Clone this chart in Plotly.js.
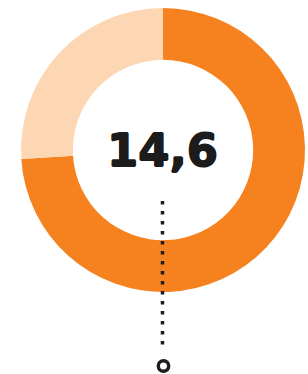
<!DOCTYPE html>
<html>
<head>
<meta charset="utf-8">
<script src="https://cdn.plot.ly/plotly-3.0.1.min.js"></script>
<style>
  html, body { margin: 0; padding: 0; background: #ffffff; }
  #chart { width: 308px; height: 374px; }
</style>
</head>
<body>
<div id="chart"></div>
<script>
// Data
const categories = ["Quota", "Resto"];
const shares = [74, 26];
const sliceColors = ["#F6821F", "#FDD6B3"];
const centerLabel = "14,6";

const W = 308, H = 374;
const cx = 163, cy = 150, R = 142;

function px(x) { return x / W; }
function py(y) { return (H - y) / H; }

const data = [{
  type: "pie",
  labels: categories,
  values: shares,
  marker: { colors: sliceColors, line: { width: 0 } },
  hole: 0.635,
  sort: false,
  direction: "clockwise",
  rotation: 0,
  textinfo: "none",
  hoverinfo: "none",
  showlegend: false,
  domain: { x: [px(cx - R), px(cx + R)], y: [py(cy + R), py(cy - R)] }
}];

const ink = "#1c1c1c";
const layout = {
  width: W, height: H,
  margin: { l: 0, r: 0, t: 0, b: 0 },
  paper_bgcolor: "#ffffff",
  plot_bgcolor: "#ffffff",
  showlegend: false,
  annotations: [{
    text: "<b>" + centerLabel + "</b>",
    xref: "paper", yref: "paper",
    x: px(cx - 1), y: py(150),
    xanchor: "center", yanchor: "middle",
    showarrow: false,
    font: {
      family: "DejaVu Sans", size: 45, color: ink,
      shadow: "0.8px 0 0 " + ink + ", -0.8px 0 0 " + ink + ", 0 0.8px 0 " + ink + ", 0 -0.8px 0 " + ink
    }
  }],
  shapes: [
    {
      type: "line", xref: "paper", yref: "paper",
      x0: px(cx - 0.5), x1: px(cx - 0.5), y0: py(201), y1: py(350),
      line: { color: ink, width: 3.5, dash: "3.5px,6.5px" }
    },
    {
      type: "circle", xref: "paper", yref: "paper",
      x0: px(cx + 0.5 - 5.2), x1: px(cx + 0.5 + 5.2), y0: py(366 + 5.2), y1: py(366 - 5.2),
      line: { color: ink, width: 3.4 },
      fillcolor: "#ffffff"
    }
  ]
};

Plotly.newPlot("chart", data, layout, { displayModeBar: false, staticPlot: true });
</script>
</body>
</html>
